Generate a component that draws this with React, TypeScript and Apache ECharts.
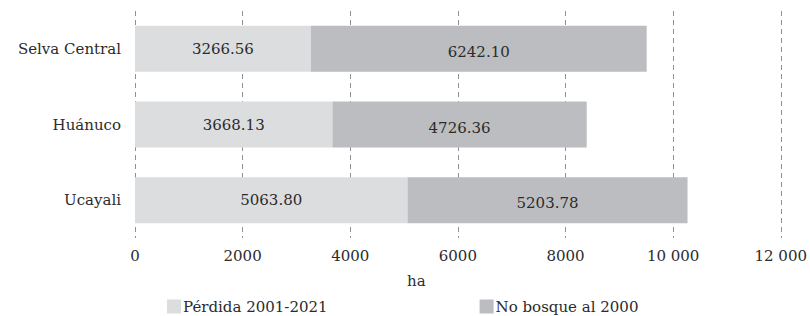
import React, { useEffect, useRef } from "react";
import * as echarts from "echarts";

const categories = ["Selva Central", "Huánuco", "Ucayali"];
const perdida = [3266.56, 3668.13, 5063.8];
const noBosque = [6242.1, 4726.36, 5203.78];
const seriesNames = ["Pérdida 2001-2021", "No bosque al 2000"];
const axisName = "ha";

const FONT = "'DejaVu Serif', serif";
const TXT = "#2b2b2b";

function fmtTick(v: number): string {
  if (v >= 10000) {
    const s = String(v);
    return s.slice(0, s.length - 3) + " " + s.slice(s.length - 3);
  }
  return String(v);
}

export default function App() {
  const ref = useRef<HTMLDivElement>(null);
  useEffect(() => {
    if (!ref.current) return;
    const chart = echarts.init(ref.current, undefined, { renderer: "svg" });
    chart.setOption({
      animation: false,
      backgroundColor: "#ffffff",
      textStyle: { fontFamily: FONT, color: TXT },
      grid: { left: 135, right: 28, top: 11, bottom: 78, containLabel: false },
      legend: {
        left: 162,
        top: 294,
        itemWidth: 14,
        itemHeight: 14,
        itemGap: 152,
        icon: "rect",
        textStyle: { fontFamily: FONT, fontSize: 15, color: TXT, padding: [0, 0, 0, -3] },
        data: seriesNames,
      },
      xAxis: {
        type: "value",
        min: 0,
        max: 12000,
        interval: 2000,
        axisLine: { show: false },
        axisTick: { show: false },
        splitLine: { show: true, lineStyle: { color: "#8f8f8f", type: [5, 4], width: 1 } },
        axisLabel: {
          fontFamily: FONT,
          fontSize: 15,
          color: TXT,
          margin: 10,
          formatter: (v: number) => fmtTick(v),
        },
      },
      yAxis: {
        type: "category",
        data: categories,
        inverse: true,
        axisLine: { show: false },
        axisTick: { show: false },
        splitLine: { show: false },
        axisLabel: { fontFamily: FONT, fontSize: 15, color: TXT, margin: 14 },
      },
      graphic: [
        {
          type: "text",
          left: 416 - 9,
          top: 273,
          style: { text: axisName, font: `15px ${FONT}`, fill: TXT },
        },
      ],
      series: [
        {
          name: seriesNames[0],
          type: "bar",
          stack: "total",
          barWidth: 46,
          data: perdida,
          itemStyle: { color: "#dcdddf" },
          label: {
            show: true,
            position: "inside",
            fontFamily: FONT,
            fontSize: 15,
            color: TXT,
            formatter: (p: any) => Number(p.value).toFixed(2),
          },
        },
        {
          name: seriesNames[1],
          type: "bar",
          stack: "total",
          barWidth: 46,
          data: noBosque,
          itemStyle: { color: "#bcbdc0" },
          label: {
            show: true,
            position: "inside",
            offset: [0, 3],
            fontFamily: FONT,
            fontSize: 15,
            color: TXT,
            formatter: (p: any) => Number(p.value).toFixed(2),
          },
        },
      ],
    });
    return () => chart.dispose();
  }, []);
  return <div ref={ref} style={{ width: 810, height: 316, position: "absolute", left: 0, top: 0 }} />;
}
